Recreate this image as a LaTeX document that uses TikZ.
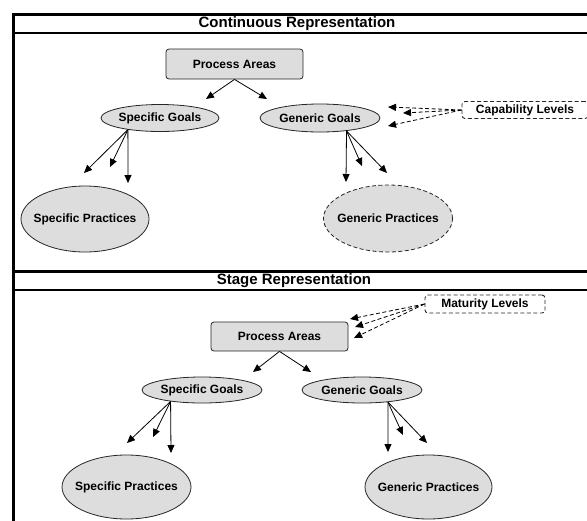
\documentclass[tikz,border=0pt]{standalone}
\usepackage{fontspec}
\setmainfont{Liberation Sans}
\usetikzlibrary{arrows.meta,shapes.geometric}
\definecolor{gfill}{RGB}{221,221,221}
\newcommand\zbx[1]{\makebox[0pt]{#1}}
\begin{document}
\begin{tikzpicture}[x=1pt,y=-1pt,
  every node/.style={font=\fontsize{12}{14}\selectfont\bfseries, inner sep=0pt},
  title/.style={font=\fontsize{15}{17}\selectfont\bfseries},
  box/.style={draw=black!85, fill=gfill, rounded corners=3pt, line width=0.8pt, minimum width=137pt, minimum height=30pt},
  oval/.style={ellipse, draw=black!85, fill=gfill, line width=0.8pt},
  dbox/.style={draw=black!85, rounded corners=3pt, line width=0.9pt, dash pattern=on 4pt off 2.5pt},
  arr/.style={-{Triangle[length=8pt,width=7pt]}, line width=0.8pt},
  darr/.style={arr, dash pattern=on 4pt off 2.5pt}]
\useasboundingbox (0,0) rectangle (587,520);
\clip (0,0) rectangle (587,520);
% frame
\draw[line width=3pt] (13,14) rectangle (600,540);
\draw[line width=2pt] (13,33) -- (600,33);
\draw[line width=3pt] (13,271) -- (600,271);
\draw[line width=2pt] (13,290) -- (600,290);
\node[title] (t1) at (297,23.5) {Continuous Representation};
\node[title] (t2) at (294,280.5) {Stage Representation};

% continuous
\node[box] (pa1) at (234.5,64) {Process Areas};
\node[oval, minimum width=118pt, minimum height=27pt] (sg1) at (160,118) {\zbx{Specific Goals}};
\node[oval, minimum width=120pt, minimum height=28pt] (gg1) at (320,118) {\zbx{Generic Goals}};
\node[dbox, minimum width=126pt, minimum height=17pt] (cap) at (525,110) {Capability Levels};
\node[oval, minimum width=128pt, minimum height=66pt] (sp1) at (85,219) {\zbx{Specific Practices}};
\node[oval, dash pattern=on 4pt off 2.5pt, minimum width=129pt, minimum height=67pt] (gp1) at (388,218.5) {\zbx{Generic Practices}};

\coordinate (a1) at (206,99);
\coordinate (a2) at (267,99);
\draw[arr] (pa1.south) -- (a1);
\draw[arr] (pa1.south) -- (a2);
\coordinate (b1) at (84,173);
\coordinate (b2) at (110,167);
\coordinate (b3) at (128,183);
\draw[arr] (sg1.200) -- (b1);
\draw[arr] (sg1.200) -- (b2);
\draw[arr] (sg1.200) -- (b3);
\coordinate (c1) at (346,182);
\coordinate (c2) at (362,166);
\coordinate (c3) at (387,173);
\draw[arr] (gg1.334) -- (c1);
\draw[arr] (gg1.334) -- (c2);
\draw[arr] (gg1.334) -- (c3);
\coordinate (d1) at (388,107);
\coordinate (d2) at (403,113);
\coordinate (d3) at (388,126);
\draw[darr] (cap.west) -- (d1);
\draw[darr] (cap.west) -- (d2);
\draw[darr] (cap.west) -- (d3);

% stage
\node[box, minimum height=29pt] (pa2) at (279.5,336.5) {Process Areas};
\node[dbox, minimum width=120pt, minimum height=18pt] (mat) at (485,304) {Maturity Levels};
\node[oval, minimum width=120pt, minimum height=26pt] (sg2) at (202,390) {\zbx{Specific Goals}};
\node[oval, minimum width=120pt, minimum height=26pt] (gg2) at (362,390) {\zbx{Generic Goals}};
\node[oval, minimum width=129pt, minimum height=64pt] (sp2) at (126.5,487) {\zbx{Specific Practices}};
\node[oval, minimum width=127pt, minimum height=64pt] (gp2) at (428.5,487) {\zbx{Generic Practices}};

\coordinate (e1) at (253,372);
\coordinate (e2) at (311,372);
\draw[arr] (pa2.south) -- (e1);
\draw[arr] (pa2.south) -- (e2);
\coordinate (f1) at (350,319);
\coordinate (f2) at (355,327);
\coordinate (f3) at (354,338);
\draw[darr] (mat.west) -- (f1);
\draw[darr] (mat.west) -- (f2);
\draw[darr] (mat.west) -- (f3);
\coordinate (g1) at (127,443);
\coordinate (g2) at (153,437);
\coordinate (g3) at (171,453);
\draw[arr] (sg2.200) -- (g1);
\draw[arr] (sg2.200) -- (g2);
\draw[arr] (sg2.200) -- (g3);
\coordinate (h1) at (388,452);
\coordinate (h2) at (403,435);
\coordinate (h3) at (427,443);
\draw[arr] (gg2.335) -- (h1);
\draw[arr] (gg2.335) -- (h2);
\draw[arr] (gg2.335) -- (h3);
\end{tikzpicture}
\end{document}
